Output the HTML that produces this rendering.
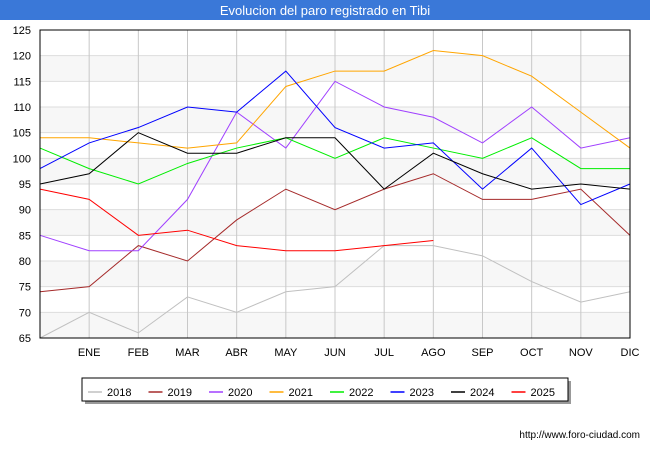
<!DOCTYPE html>
<html><head><meta charset="utf-8"><style>
body{margin:0;background:#fff;font-family:"Liberation Sans",sans-serif;}
</style></head><body>
<svg id="c" width="650" height="450" xmlns="http://www.w3.org/2000/svg" font-family="Liberation Sans, sans-serif">
<rect x="0" y="0" width="650" height="20" fill="#3a78d8"/>
<text x="325" y="15" text-anchor="middle" font-size="13" fill="#fff">Evolucion del paro registrado en Tibi</text>
<g id="grid"></g><g id="series"></g>
<rect x="40" y="30" width="590" height="308" fill="none" stroke="#000" stroke-width="1"/>
<g id="legend"></g>
<text x="640" y="438" text-anchor="end" font-size="10" fill="#000">http://www.foro-ciudad.com</text>
</svg>
<script>
const months=["","ENE","FEB","MAR","ABR","MAY","JUN","JUL","AGO","SEP","OCT","NOV","DIC"];
const yTicks=[65,70,75,80,85,90,95,100,105,110,115,120,125];
const years=["2018","2019","2020","2021","2022","2023","2024","2025"];
const colors=["#c0c0c0","#a52a2a","#a040ff","#ffa500","#00ee00","#0000ff","#000000","#ff0000"];
const s2018=[65,70,66,73,70,74,75,83,83,81,76,72,74];
const s2019=[74,75,83,80,88,94,90,94,97,92,92,94,85];
const s2020=[85,82,82,92,109,102,115,110,108,103,110,102,104];
const s2021=[104,104,103,102,103,114,117,117,121,120,116,109,102];
const s2022=[102,98,95,99,102,104,100,104,102,100,104,98,98];
const s2023=[98,103,106,110,109,117,106,102,103,94,102,91,95];
const s2024=[95,97,105,101,101,104,104,94,101,97,94,95,94];
const s2025=[94,92,85,86,83,82,82,83,84];
const series=[s2018,s2019,s2020,s2021,s2022,s2023,s2024,s2025];
const NS="http://www.w3.org/2000/svg";
const X=i=>40+i*590/12, Y=v=>338-(v-65)*308/60;
const grid=document.getElementById('grid');
function mk(t,a,p){const e=document.createElementNS(NS,t);for(const k in a)e.setAttribute(k,a[k]);p.appendChild(e);return e;}
for(let i=0;i<yTicks.length-1;i++){
 if(i%2==0){const r=mk('rect',{x:40,y:Y(yTicks[i+1]),width:590,height:Y(yTicks[i])-Y(yTicks[i+1]),fill:'#f7f7f7'},grid);
 
 }
}
yTicks.forEach(v=>{
 const l=mk('line',{x1:40,x2:630,y1:Y(v),y2:Y(v),stroke:'#dddddd'},grid);
 
 
 const t=mk('text',{x:31,y:Y(v)+4,'text-anchor':'end','font-size':11,fill:'#000'},grid);t.textContent=v;
 
 
});
months.forEach((m,i)=>{
 const l=mk('line',{x1:X(i),x2:X(i),y1:30,y2:338,stroke:'#c8c8c8'},grid);
 
 
 if(m){const t=mk('text',{x:X(i),y:356,'text-anchor':'middle','font-size':11,fill:'#000'},grid);t.textContent=m;
 
 }
});
const sg=document.getElementById('series');
series.forEach((s,k)=>{
 const p=mk('polyline',{points:s.map((v,i)=>X(i)+','+Y(v)).join(' '),fill:'none',stroke:colors[k],'stroke-width':1},sg);
 
 
});
const lg=document.getElementById('legend');
mk('rect',{x:85,y:381,width:486,height:23,fill:'#999'},lg);
const box=mk('rect',{x:82,y:378,width:486,height:23,fill:'#fff',stroke:'#000'},lg);


years.forEach((y,k)=>{
 const x0=88+k*60.5;
 const l=mk('line',{x1:x0,x2:x0+14,y1:392,y2:392,stroke:colors[k],'stroke-width':1.5},lg);
 
 
 const t=mk('text',{x:x0+19,y:396,'font-size':11,fill:'#000'},lg);t.textContent=y;
 
 
});
</script>
</body></html>
